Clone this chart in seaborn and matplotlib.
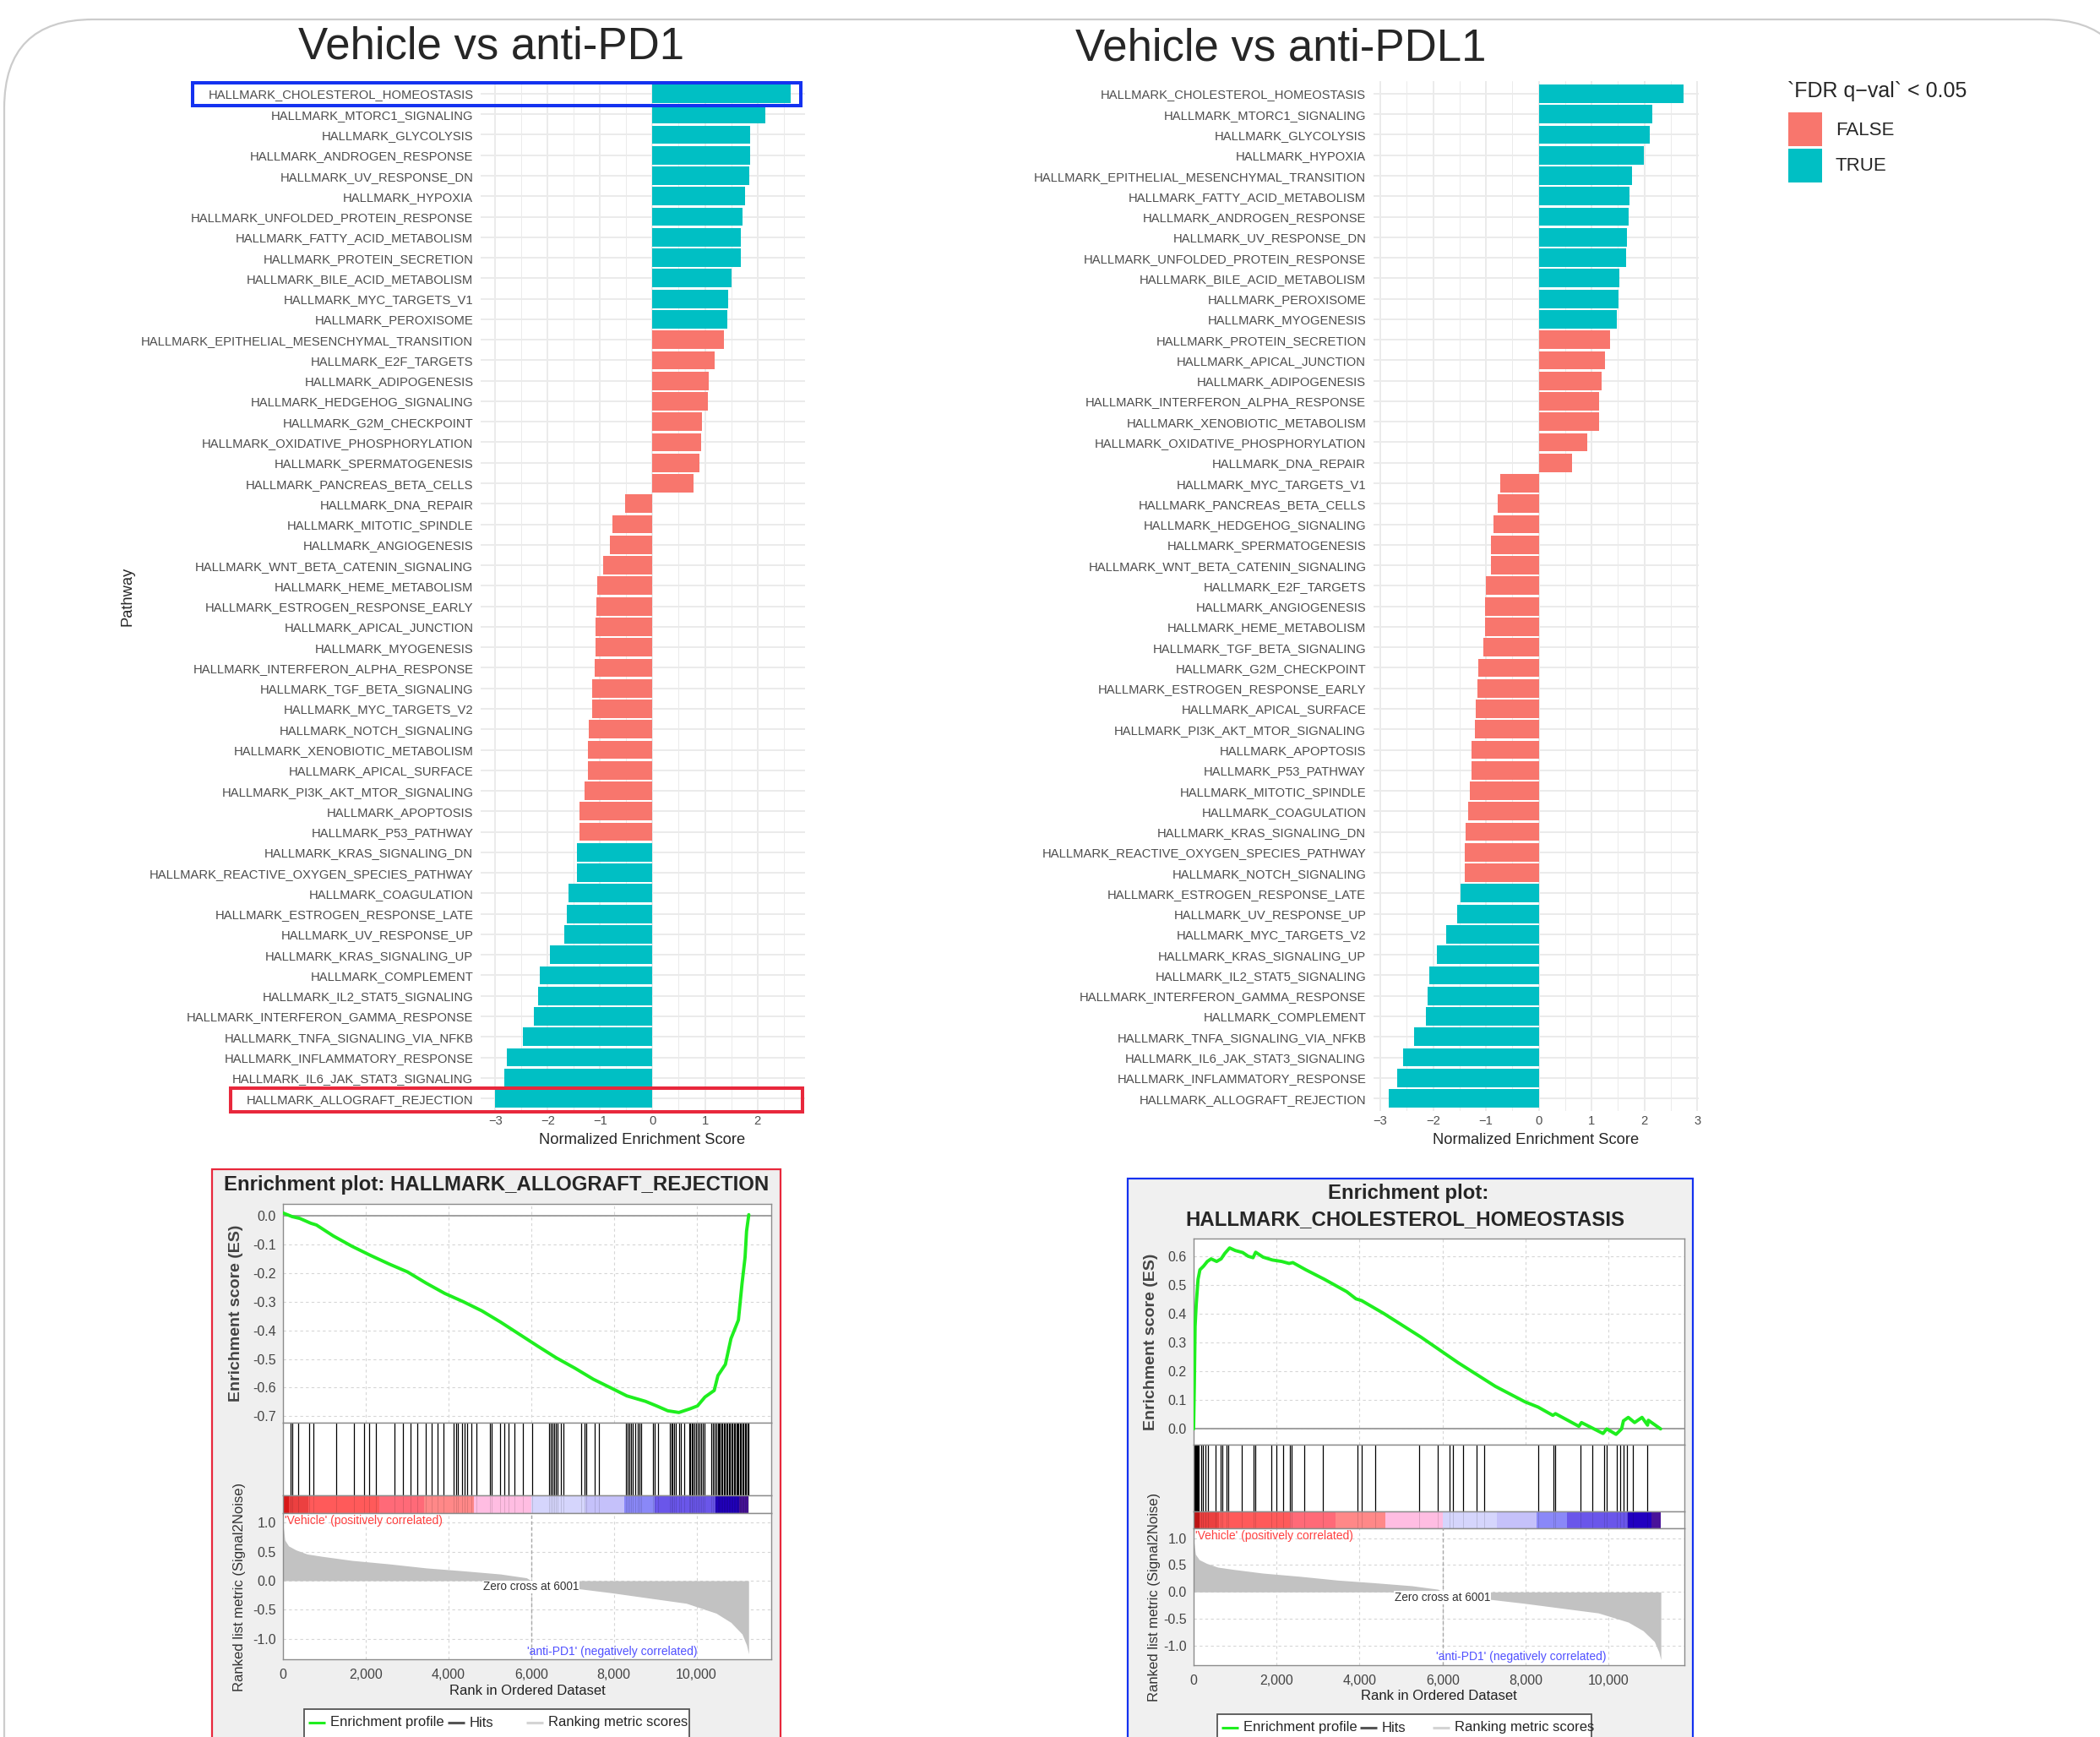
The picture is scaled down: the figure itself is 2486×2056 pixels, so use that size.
import matplotlib
matplotlib.use("Agg")
import pandas as pd
import matplotlib.pyplot as plt
import seaborn as sns
from matplotlib.patches import Rectangle, FancyBboxPatch

W, H = 2486, 2056

# ---------------- NES bar chart data ----------------
pd1_pathways = [
    "HALLMARK_CHOLESTEROL_HOMEOSTASIS", "HALLMARK_MTORC1_SIGNALING", "HALLMARK_GLYCOLYSIS",
    "HALLMARK_ANDROGEN_RESPONSE", "HALLMARK_UV_RESPONSE_DN", "HALLMARK_HYPOXIA",
    "HALLMARK_UNFOLDED_PROTEIN_RESPONSE", "HALLMARK_FATTY_ACID_METABOLISM", "HALLMARK_PROTEIN_SECRETION",
    "HALLMARK_BILE_ACID_METABOLISM", "HALLMARK_MYC_TARGETS_V1", "HALLMARK_PEROXISOME",
    "HALLMARK_EPITHELIAL_MESENCHYMAL_TRANSITION", "HALLMARK_E2F_TARGETS", "HALLMARK_ADIPOGENESIS",
    "HALLMARK_HEDGEHOG_SIGNALING", "HALLMARK_G2M_CHECKPOINT", "HALLMARK_OXIDATIVE_PHOSPHORYLATION",
    "HALLMARK_SPERMATOGENESIS", "HALLMARK_PANCREAS_BETA_CELLS", "HALLMARK_DNA_REPAIR",
    "HALLMARK_MITOTIC_SPINDLE", "HALLMARK_ANGIOGENESIS", "HALLMARK_WNT_BETA_CATENIN_SIGNALING",
    "HALLMARK_HEME_METABOLISM", "HALLMARK_ESTROGEN_RESPONSE_EARLY", "HALLMARK_APICAL_JUNCTION",
    "HALLMARK_MYOGENESIS", "HALLMARK_INTERFERON_ALPHA_RESPONSE", "HALLMARK_TGF_BETA_SIGNALING",
    "HALLMARK_MYC_TARGETS_V2", "HALLMARK_NOTCH_SIGNALING", "HALLMARK_XENOBIOTIC_METABOLISM",
    "HALLMARK_APICAL_SURFACE", "HALLMARK_PI3K_AKT_MTOR_SIGNALING", "HALLMARK_APOPTOSIS",
    "HALLMARK_P53_PATHWAY", "HALLMARK_KRAS_SIGNALING_DN", "HALLMARK_REACTIVE_OXYGEN_SPECIES_PATHWAY",
    "HALLMARK_COAGULATION", "HALLMARK_ESTROGEN_RESPONSE_LATE", "HALLMARK_UV_RESPONSE_UP",
    "HALLMARK_KRAS_SIGNALING_UP", "HALLMARK_COMPLEMENT", "HALLMARK_IL2_STAT5_SIGNALING",
    "HALLMARK_INTERFERON_GAMMA_RESPONSE", "HALLMARK_TNFA_SIGNALING_VIA_NFKB", "HALLMARK_INFLAMMATORY_RESPONSE",
    "HALLMARK_IL6_JAK_STAT3_SIGNALING", "HALLMARK_ALLOGRAFT_REJECTION",
]
pd1_nes = [
    2.63, 2.15, 1.87, 1.87, 1.84, 1.76, 1.71, 1.69, 1.68, 1.50,
    1.45, 1.42, 1.36, 1.18, 1.07, 1.05, 0.95, 0.92, 0.89, 0.79,
    -0.52, -0.76, -0.82, -0.94, -1.05, -1.07, -1.09, -1.09, -1.11, -1.15,
    -1.16, -1.21, -1.23, -1.23, -1.29, -1.39, -1.40, -1.45, -1.45, -1.60,
    -1.63, -1.68, -1.96, -2.15, -2.18, -2.26, -2.47, -2.78, -2.83, -3.00,
]
pd1_fdr = [
    "TRUE", "TRUE", "TRUE", "TRUE", "TRUE", "TRUE", "TRUE", "TRUE", "TRUE", "TRUE",
    "TRUE", "TRUE", "FALSE", "FALSE", "FALSE", "FALSE", "FALSE", "FALSE", "FALSE", "FALSE",
    "FALSE", "FALSE", "FALSE", "FALSE", "FALSE", "FALSE", "FALSE", "FALSE", "FALSE", "FALSE",
    "FALSE", "FALSE", "FALSE", "FALSE", "FALSE", "FALSE", "FALSE", "TRUE", "TRUE", "TRUE",
    "TRUE", "TRUE", "TRUE", "TRUE", "TRUE", "TRUE", "TRUE", "TRUE", "TRUE", "TRUE",
]

pdl1_pathways = [
    "HALLMARK_CHOLESTEROL_HOMEOSTASIS", "HALLMARK_MTORC1_SIGNALING", "HALLMARK_GLYCOLYSIS",
    "HALLMARK_HYPOXIA", "HALLMARK_EPITHELIAL_MESENCHYMAL_TRANSITION", "HALLMARK_FATTY_ACID_METABOLISM",
    "HALLMARK_ANDROGEN_RESPONSE", "HALLMARK_UV_RESPONSE_DN", "HALLMARK_UNFOLDED_PROTEIN_RESPONSE",
    "HALLMARK_BILE_ACID_METABOLISM", "HALLMARK_PEROXISOME", "HALLMARK_MYOGENESIS",
    "HALLMARK_PROTEIN_SECRETION", "HALLMARK_APICAL_JUNCTION", "HALLMARK_ADIPOGENESIS",
    "HALLMARK_INTERFERON_ALPHA_RESPONSE", "HALLMARK_XENOBIOTIC_METABOLISM", "HALLMARK_OXIDATIVE_PHOSPHORYLATION",
    "HALLMARK_DNA_REPAIR", "HALLMARK_MYC_TARGETS_V1", "HALLMARK_PANCREAS_BETA_CELLS",
    "HALLMARK_HEDGEHOG_SIGNALING", "HALLMARK_SPERMATOGENESIS", "HALLMARK_WNT_BETA_CATENIN_SIGNALING",
    "HALLMARK_E2F_TARGETS", "HALLMARK_ANGIOGENESIS", "HALLMARK_HEME_METABOLISM",
    "HALLMARK_TGF_BETA_SIGNALING", "HALLMARK_G2M_CHECKPOINT", "HALLMARK_ESTROGEN_RESPONSE_EARLY",
    "HALLMARK_APICAL_SURFACE", "HALLMARK_PI3K_AKT_MTOR_SIGNALING", "HALLMARK_APOPTOSIS",
    "HALLMARK_P53_PATHWAY", "HALLMARK_MITOTIC_SPINDLE", "HALLMARK_COAGULATION",
    "HALLMARK_KRAS_SIGNALING_DN", "HALLMARK_REACTIVE_OXYGEN_SPECIES_PATHWAY", "HALLMARK_NOTCH_SIGNALING",
    "HALLMARK_ESTROGEN_RESPONSE_LATE", "HALLMARK_UV_RESPONSE_UP", "HALLMARK_MYC_TARGETS_V2",
    "HALLMARK_KRAS_SIGNALING_UP", "HALLMARK_IL2_STAT5_SIGNALING", "HALLMARK_INTERFERON_GAMMA_RESPONSE",
    "HALLMARK_COMPLEMENT", "HALLMARK_TNFA_SIGNALING_VIA_NFKB", "HALLMARK_IL6_JAK_STAT3_SIGNALING",
    "HALLMARK_INFLAMMATORY_RESPONSE", "HALLMARK_ALLOGRAFT_REJECTION",
]
pdl1_nes = [
    2.74, 2.15, 2.10, 1.99, 1.77, 1.72, 1.70, 1.67, 1.65, 1.53,
    1.51, 1.48, 1.35, 1.26, 1.19, 1.14, 1.14, 0.91, 0.63, -0.73,
    -0.78, -0.86, -0.90, -0.91, -1.00, -1.02, -1.02, -1.05, -1.15, -1.17,
    -1.20, -1.21, -1.27, -1.27, -1.31, -1.34, -1.39, -1.41, -1.41, -1.49,
    -1.55, -1.76, -1.93, -2.07, -2.11, -2.14, -2.36, -2.57, -2.69, -2.85,
]
pdl1_fdr = [
    "TRUE", "TRUE", "TRUE", "TRUE", "TRUE", "TRUE", "TRUE", "TRUE", "TRUE", "TRUE",
    "TRUE", "TRUE", "FALSE", "FALSE", "FALSE", "FALSE", "FALSE", "FALSE", "FALSE", "FALSE",
    "FALSE", "FALSE", "FALSE", "FALSE", "FALSE", "FALSE", "FALSE", "FALSE", "FALSE", "FALSE",
    "FALSE", "FALSE", "FALSE", "FALSE", "FALSE", "FALSE", "FALSE", "FALSE", "FALSE", "TRUE",
    "TRUE", "TRUE", "TRUE", "TRUE", "TRUE", "TRUE", "TRUE", "TRUE", "TRUE", "TRUE",
]

# ---------------- GSEA enrichment plot data ----------------
es_allo_rank = [0, 225, 405, 674, 809, 1214, 1663, 2113, 2562, 3012, 3461, 3911, 4360, 4810,
                5259, 5709, 6158, 6608, 7057, 7507, 7956, 8316, 8765, 9035, 9305, 9574, 9844,
                10024, 10204, 10428, 10518, 10698, 10833, 11013, 11102, 11174, 11210, 11264]
es_allo = [0.01, -0.003, -0.009, -0.026, -0.032, -0.07, -0.106, -0.138, -0.168, -0.196, -0.235,
           -0.271, -0.30, -0.332, -0.371, -0.413, -0.455, -0.496, -0.532, -0.571, -0.603, -0.629,
           -0.648, -0.664, -0.681, -0.687, -0.674, -0.664, -0.633, -0.61, -0.558, -0.519, -0.429,
           -0.364, -0.235, -0.145, -0.054, 0.004]
hits_allo = [194, 234, 372, 638, 743, 1284, 1713, 1955, 2092, 2238, 2698, 2900, 3086, 3247, 3449,
             3587, 3732, 3877, 4136, 4184, 4233, 4338, 4402, 4459, 4556, 4685, 5008, 5041, 5251,
             5348, 5445, 5590, 5792, 6034, 6440, 6480, 6520, 6560, 6600, 6640, 6720, 6785, 7206,
             7286, 7327, 7545, 7650, 8296, 8337, 8377, 8418, 8458, 8515, 8580, 8620, 8660, 8943,
             8983, 9064, 9346, 9387, 9427, 9467, 9508, 9589, 9629, 9710, 9831, 9855, 9888, 9912,
             9952, 9993, 10033, 10074, 10114, 10155, 10195, 10356, 10397, 10437, 10480, 10510,
             10540, 10570, 10600, 10630, 10660, 10690, 10720, 10750, 10780, 10810, 10840, 10870,
             10900, 10930, 10960, 10990, 11020, 11050, 11080, 11110, 11140, 11170, 11200, 11230, 11250]

es_chol_rank = [0, 18, 36, 63, 107, 152, 242, 331, 421, 555, 663, 752, 868, 1003, 1182, 1316, 1432,
                1495, 1674, 1898, 2122, 2301, 2391, 2704, 3151, 3689, 3913, 4047, 4584, 5479, 6375,
                7270, 7986, 8299, 8657, 8720, 9284, 9347, 9580, 9866, 9956, 10180, 10314, 10358,
                10475, 10627, 10806, 10940, 10958, 11254]
es_chol = [0.0, 0.154, 0.357, 0.433, 0.52, 0.553, 0.566, 0.582, 0.591, 0.582, 0.591, 0.61, 0.629,
           0.62, 0.613, 0.6, 0.595, 0.614, 0.597, 0.587, 0.582, 0.575, 0.578, 0.553, 0.52, 0.477,
           0.452, 0.446, 0.401, 0.319, 0.23, 0.148, 0.094, 0.076, 0.047, 0.053, 0.009, 0.022,
           0.005, -0.016, 0.0, -0.019, 0.0, 0.028, 0.04, 0.022, 0.04, 0.013, 0.03, 0.0]
hits_chol = [10, 30, 50, 70, 90, 110, 130, 177, 217, 280, 336, 534, 653, 692, 795, 835, 1168, 1445,
             1484, 1880, 1999, 2157, 2316, 2355, 2672, 3124, 3940, 4058, 4375, 5444, 5880, 6173,
             6252, 6490, 6815, 7005, 8311, 8676, 8715, 9325, 9602, 9903, 9958, 10196, 10275,
             10354, 10449, 10592, 10925]

# ranked list metric (same ranked list in both plots)
metric_rank = [0, 45, 135, 315, 584, 944, 1663, 2562, 3461, 4360, 5259, 5888, 6001, 6158, 7057,
               7956, 8855, 9754, 10473, 10833, 11102, 11210, 11260]
metric_val = [0.98, 0.70, 0.60, 0.53, 0.46, 0.42, 0.35, 0.29, 0.22, 0.17, 0.115, 0.05, 0.0, -0.03,
              -0.13, -0.21, -0.30, -0.39, -0.56, -0.72, -0.92, -1.11, -1.26]
cbar_edges = [0, 140, 620, 2320, 3420, 4620, 6005, 7310, 8255, 8990, 10465, 11025, 11260]
cbar_colors = ["#D81818", "#EC4040", "#FF5A5A", "#FF6A78", "#FF8888", "#FFBDE2", "#D5D5FC",
               "#C5C1FA", "#8A88F8", "#6A56EA", "#2200C0", "#48129A"]

PAL = {"FALSE": "#F8766D", "TRUE": "#00BFC4"}

sns.set_style("white")
plt.rcParams["font.family"] = ["Liberation Sans", "DejaVu Sans"]

fig = plt.figure(figsize=(W / 100, H / 100), dpi=100)


def px_axes(x0, y0, x1, y1):
    return fig.add_axes([x0 / W, 1 - y1 / H, (x1 - x0) / W, (y1 - y0) / H])


# background / overlay layers in pixel coordinates
bg = px_axes(0, 0, W, H)
bg.set_xlim(0, W)
bg.set_ylim(H, 0)
bg.axis("off")
bg.set_zorder(-5)
bg.add_patch(FancyBboxPatch((5, 23), 2519, 3000, boxstyle="round,pad=0,rounding_size=105",
                            fc="none", ec="#CCCCCC", lw=1.6))
bg.add_patch(Rectangle((251.5, 1384), 672.5, 700, fc="#EFEFEF", ec="#E8283C", lw=1.6))
bg.add_patch(Rectangle((1335, 1395), 669, 700, fc="#F0F0F0", ec="#1432F0", lw=1.6))


def nes_panel(x0, x1, names, nes, fdr, xlim, ticks, minor):
    ax = px_axes(x0, 96.4, x1, 1314.6)
    df = pd.DataFrame({"Pathway": names, "NES": nes, "FDR": fdr})
    sns.barplot(data=df, x="NES", y="Pathway", hue="FDR", hue_order=["FALSE", "TRUE"],
                palette=PAL, order=names, orient="h", dodge=False, width=0.9, saturation=1,
                linewidth=0, legend=False, ax=ax, zorder=2)
    ax.set_xlim(*xlim)
    ax.set_ylim(len(names) - 0.4, -0.6)
    ax.set_xticks(ticks)
    ax.set_xticks(minor, minor=True)
    ax.set_axisbelow(True)
    ax.grid(which="major", axis="both", color="#EBEBEB", lw=1.4)
    ax.grid(which="minor", axis="x", color="#EBEBEB", lw=0.7)
    for s in ax.spines.values():
        s.set_visible(False)
    ax.tick_params(which="both", length=0, labelsize=10.6, labelcolor="#4D4D4D")
    ax.tick_params(axis="y", pad=6.3)
    ax.tick_params(axis="x", pad=4)
    ax.set_xlabel("")
    ax.set_ylabel("")
    return ax


nes_panel(569, 953, pd1_pathways, pd1_nes, pd1_fdr, (-3.28, 2.91),
          [-3, -2, -1, 0, 1, 2], [-2.5, -1.5, -0.5, 0.5, 1.5, 2.5])
nes_panel(1626, 2011, pdl1_pathways, pdl1_nes, pdl1_fdr, (-3.13, 3.03),
          [-3, -2, -1, 0, 1, 2, 3], [-2.5, -1.5, -0.5, 0.5, 1.5, 2.5])


def gsea_panel(x0, x1, ys, xmax, es_rank, es_vals, es_lim, es_ticks, hits, rk_lim):
    y_es0, y_es1, y_hit1, y_cb1, y_rk1 = ys
    frame = "#8C8C8C"
    ax_es = px_axes(x0, y_es0, x1, y_es1)
    ax_hit = px_axes(x0, y_es1, x1, y_hit1)
    ax_cb = px_axes(x0, y_hit1, x1, y_cb1)
    ax_rk = px_axes(x0, y_cb1, x1, y_rk1)
    xt = [0, 2000, 4000, 6000, 8000, 10000]
    for a in (ax_es, ax_hit, ax_cb, ax_rk):
        a.set_facecolor("white")
        a.set_xlim(0, xmax)
        for s in a.spines.values():
            s.set_color(frame)
            s.set_linewidth(1.0)
        a.tick_params(length=0, labelbottom=False, labelleft=False)
    # enrichment score
    for v in xt[1:]:
        ax_es.axvline(v, color="#D6D6D6", lw=0.8, ls=(0, (3, 3)), zorder=0)
    for v in es_ticks:
        ax_es.axhline(v, color="#D6D6D6", lw=0.8, ls=(0, (3, 3)), zorder=0)
    ax_es.axhline(0, color="#A0A0A0", lw=1.4, zorder=1)
    sns.lineplot(x=es_rank, y=es_vals, color="#1FEE1F", lw=2.8, ax=ax_es, zorder=3,
                 estimator=None, sort=False)
    ax_es.set_ylim(*es_lim)
    ax_es.set_yticks(es_ticks)
    ax_es.set_yticklabels(["0.0" if v == 0 else f"{v:.1f}" for v in es_ticks])
    ax_es.tick_params(axis="y", labelleft=True, length=3, color=frame, pad=3,
                      labelsize=11.5, labelcolor="#444444")
    # hits
    ax_hit.vlines(hits, 0, 1, color="black", lw=0.9)
    ax_hit.set_ylim(0, 1)
    # colour bar of the ranked list
    for i, c in enumerate(cbar_colors):
        ax_cb.axvspan(cbar_edges[i], cbar_edges[i + 1], color=c, lw=0)
    ax_cb.vlines(hits, 0, 1, color="black", lw=0.6, alpha=0.15)
    ax_cb.set_ylim(0, 1)
    # ranked list metric
    for v in xt[1:]:
        ax_rk.axvline(v, color="#D6D6D6", lw=0.8, ls=(0, (3, 3)), zorder=0)
    for v in [1.0, 0.5, 0.0, -0.5, -1.0]:
        ax_rk.axhline(v, color="#D6D6D6", lw=0.8, ls=(0, (3, 3)), zorder=0)
    ax_rk.fill_between(metric_rank, metric_val, 0, color="#C2C2C2", lw=0, zorder=2)
    ax_rk.axvline(6001, color="#A8A8A8", lw=1.0, ls=(0, (3, 2)), zorder=3)
    ax_rk.set_ylim(*rk_lim)
    ax_rk.set_yticks([1.0, 0.5, 0.0, -0.5, -1.0])
    ax_rk.set_yticklabels(["1.0", "0.5", "0.0", "-0.5", "-1.0"])
    ax_rk.set_xticks(xt)
    ax_rk.set_xticklabels([f"{v:,}" for v in xt])
    ax_rk.tick_params(axis="both", labelleft=True, labelbottom=True, length=3, color=frame,
                      pad=3, labelsize=11.5, labelcolor="#444444")
    ax_rk.tick_params(axis="x", pad=5)
    return ax_es, ax_rk


# left: HALLMARK_ALLOGRAFT_REJECTION (Vehicle vs anti-PD1)
_, rkL = gsea_panel(335, 913, (1424.7, 1684.1, 1770, 1791, 1964.1), 11807,
                    es_allo_rank, es_allo, (-0.723, 0.0425),
                    [0.0, -0.1, -0.2, -0.3, -0.4, -0.5, -0.6, -0.7], hits_allo, (-1.357, 1.166))
rkL.text(40, 1.03, "'Vehicle' (positively correlated)", color="#FF4040", fontsize=10,
         ha="left", va="center")
rkL.text(6001, -0.108, "Zero cross at 6001", color="#333333", fontsize=9.8, ha="center",
         va="center", zorder=5, bbox=dict(fc="white", ec="none", pad=0.6))
rkL.text(10010, -1.22, "'anti-PD1' (negatively correlated)", color="#5050FF", fontsize=10,
         ha="right", va="center")

# right: HALLMARK_CHOLESTEROL_HOMEOSTASIS
_, rkR = gsea_panel(1413, 1994, (1466.2, 1709.7, 1788.6, 1808.9, 1970.5), 11827,
                    es_chol_rank, es_chol, (-0.054, 0.661),
                    [0.0, 0.1, 0.2, 0.3, 0.4, 0.5, 0.6], hits_chol, (-1.352, 1.183))
rkR.text(40, 1.04, "'Vehicle' (positively correlated)", color="#FF4040", fontsize=10,
         ha="left", va="center")
rkR.text(6001, -0.10, "Zero cross at 6001", color="#333333", fontsize=9.8, ha="center",
         va="center", zorder=5, bbox=dict(fc="white", ec="none", pad=0.6))
rkR.text(9949, -1.20, "'anti-PD1' (negatively correlated)", color="#5050FF", fontsize=10,
         ha="right", va="center")

# ---------------- overlay: titles, labels, legend, highlights ----------------
fg = px_axes(0, 0, W, H)
fg.set_xlim(0, W)
fg.set_ylim(H, 0)
fg.axis("off")
fg.set_zorder(10)

fg.text(582, 55, "Vehicle vs anti-PD1", fontsize=38, ha="center", va="center")
fg.text(1516, 58, "Vehicle vs anti-PDL1", fontsize=38, ha="center", va="center")
fg.text(151, 706, "Pathway", fontsize=13.2, rotation=90, ha="center", va="center")
fg.text(760, 1349, "Normalized Enrichment Score", fontsize=13.2, ha="center", va="center")
fg.text(1818, 1349, "Normalized Enrichment Score", fontsize=13.2, ha="center", va="center")

# legend for FDR
fg.text(2116, 108, "`FDR q\u2212val` < 0.05", fontsize=18, ha="left", va="center")
fg.add_patch(Rectangle((2117, 133), 40, 40, fc=PAL["FALSE"], ec="none"))
fg.add_patch(Rectangle((2117, 176), 40, 40, fc=PAL["TRUE"], ec="none"))
fg.text(2173, 154, "FALSE", fontsize=16, ha="left", va="center")
fg.text(2173, 197, "TRUE", fontsize=16, ha="left", va="center")

# highlight boxes on the bar chart
fg.add_patch(Rectangle((228, 98), 720, 27, fill=False, ec="#1432F0", lw=2.9))
fg.add_patch(Rectangle((273, 1287.5), 677, 28.5, fill=False, ec="#E8283C", lw=2.9))

# GSEA titles and axis labels
fg.text(588, 1403, "Enrichment plot: HALLMARK_ALLOGRAFT_REJECTION", fontsize=17.3,
        fontweight="bold", ha="center", va="center")
fg.text(1667, 1412, "Enrichment plot:", fontsize=17.3, fontweight="bold", ha="center", va="center")
fg.text(1663, 1444, "HALLMARK_CHOLESTEROL_HOMEOSTASIS", fontsize=17.3, fontweight="bold",
        ha="center", va="center")
for x, yes, yrk in [(280, 1554, 1878), (1363, 1588, 1890)]:
    fg.text(x, yes, "Enrichment score (ES)", fontsize=14, fontweight="bold", color="#444444",
            rotation=90, ha="center", va="center")
    fg.text(x + 4, yrk, "Ranked list metric (Signal2Noise)", fontsize=12, color="#333333",
            rotation=90, ha="center", va="center")
fg.text(624, 2002, "Rank in Ordered Dataset", fontsize=12, color="#222222", ha="center", va="center")
fg.text(1703, 2008, "Rank in Ordered Dataset", fontsize=12, color="#222222", ha="center", va="center")

# GSEA legends
for bx, by, bw, lx, ty in [(360, 2023, 456, (365, 530, 623), 2039),
                           (1441, 2029, 443, (1446, 1610, 1696), 2045)]:
    fg.add_patch(Rectangle((bx, by), bw, 80, fc="white", ec="#555555", lw=1.3))
    items = [("Enrichment profile", "#1FEE1F"), ("Hits", "#555555"),
             ("Ranking metric scores", "#D4D4D4")]
    for (label, col), x in zip(items, lx):
        fg.plot([x, x + 20], [ty, ty], color=col, lw=2.2, solid_capstyle="butt")
        fg.text(x + 26, ty, label, fontsize=12, ha="left", va="center")

fig.savefig("out.png", dpi=100)
